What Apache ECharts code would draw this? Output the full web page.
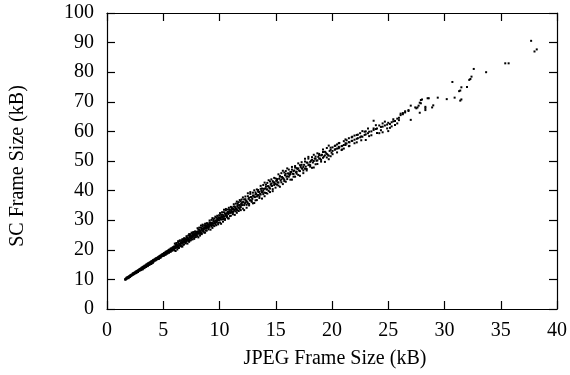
<!DOCTYPE html>
<html>
<head>
<meta charset="utf-8">
<script src="https://cdn.jsdelivr.net/npm/echarts@6/dist/echarts.min.js"></script>
<style>
html,body{margin:0;padding:0;background:#fff;}
#chart{width:570px;height:375px;}
</style>
</head>
<body>
<div id="chart"></div>
<script>
// Axis ticks
const xTicks = [0, 5, 10, 15, 20, 25, 30, 35, 40];
const yTicks = [0, 10, 20, 30, 40, 50, 60, 70, 80, 90, 100];
const xTitle = 'JPEG Frame Size (kB)';
const yTitle = 'SC Frame Size (kB)';

// [JPEG frame size kB, SC frame size kB]
const coreFrames = [
[1.62,10.1],[1.62,9.9],[1.68,10.3],[1.68,10.0],[1.75,10.4],[1.75,10.6],[1.75,10.2],[1.83,10.5],[1.83,10.8],
[1.91,10.9],[1.91,10.6],[1.91,10.4],[1.97,11.1],[1.97,10.8],[2.04,11.0],[2.04,11.3],[2.04,10.8],
[2.11,11.4],[2.11,11.1],[2.17,11.6],[2.17,11.2],[2.17,11.4],[2.26,11.5],[2.26,11.9],
[2.33,11.9],[2.33,11.6],[2.33,12.1],[2.41,12.2],[2.41,11.8],[2.47,12.0],[2.47,12.4],[2.47,12.2],
[2.55,12.6],[2.55,12.1],[2.62,12.4],[2.62,12.8],[2.62,12.2],[2.68,12.9],[2.68,12.5],
[2.76,12.7],[2.76,13.1],[2.76,12.5],[2.84,13.3],[2.84,12.9],[2.91,13.0],[2.91,13.5],[2.91,13.2],
[2.97,13.6],[2.97,13.1],[3.05,13.4],[3.05,13.9],[3.05,13.2],[3.12,14.0],[3.12,13.6],
[3.18,13.7],[3.18,14.2],[3.18,13.4],[3.26,14.4],[3.26,13.9],[3.33,14.1],[3.33,14.6],[3.33,13.8],
[3.41,14.7],[3.41,14.2],[3.48,14.5],[3.48,15.0],[3.48,14.2],[3.55,15.1],[3.55,14.6],
[3.63,14.8],[3.63,15.4],[3.63,14.5],[3.71,15.5],[3.71,14.9],[3.78,15.2],[3.78,15.7],[3.78,14.9],
[3.86,15.9],[3.86,15.3],[3.93,15.5],[3.93,16.1],[3.93,15.2],[4.01,16.2],[4.01,15.7],
[4.08,15.9],[4.08,16.5],[4.08,15.6],[4.15,16.6],[4.15,16.0],[3.95,15.4],[4.23,16.3],[4.23,16.8],
[4.31,17.0],[4.31,16.4],[4.31,16.7],[4.38,16.6],[4.38,17.2],[4.46,17.3],[4.46,16.8],[4.46,17.0],
[4.53,17.5],[4.53,16.9],[4.61,17.2],[4.61,17.7],[4.61,16.9],[4.68,17.9],[4.68,17.3],
[4.76,17.6],[4.76,18.1],[4.76,17.3],[4.84,18.3],[4.84,17.7],[4.91,17.9],[4.91,18.5],[4.91,18.1],
[4.98,18.6],[4.98,18.0],[5.06,18.3],[5.06,18.9],[5.06,18.0],[5.06,18.6],[5.14,19.0],[5.14,18.4],
[5.21,18.7],[5.21,19.3],[5.21,18.3],[5.28,19.4],[5.28,18.7],[5.28,19.0],[5.36,19.0],[5.36,19.6],[5.36,18.7],
[5.44,19.8],[5.44,19.1],[5.51,19.4],[5.51,20.0],[5.51,19.0],[5.51,19.6],[5.58,20.1],[5.58,19.5],
[5.66,19.7],[5.66,20.4],[5.66,19.3],[5.73,20.5],[5.73,19.8],[5.73,20.1],[5.81,20.1],[5.81,20.7],[5.81,19.7],
[5.88,20.9],[5.88,20.2],[5.95,20.4],[5.95,21.1],[5.95,20.0],[5.95,20.7]
];
const centreFrames = [
[6.06,20.9],[6.14,21.3],[6.21,21.0],[6.28,21.6],[6.36,21.4],[6.43,22.0],[6.51,21.8],[6.58,22.4],[6.66,22.2],
[6.73,22.7],[6.81,22.5],[6.88,23.1],[6.96,22.9],[7.04,23.5],[7.11,23.3],[7.19,23.9],[7.26,23.6],[7.34,24.2],
[7.41,24.0],[7.49,24.6],[7.56,24.4],[7.64,25.0],[7.71,24.7],[7.79,25.3],[7.86,25.1],[7.94,25.7],[8.01,25.4],
[8.09,26.1],[8.16,25.8],[8.24,26.5],[8.31,26.2],[8.39,26.8],[8.46,26.5],[8.54,27.2],[8.61,26.9],[8.69,27.6],
[8.76,27.2],[8.84,27.9],[8.91,27.6],[8.99,28.3],[9.07,28.0],[9.16,28.7],[9.25,28.4],[9.33,29.1],[9.42,28.8],
[9.50,29.5],[9.59,29.2],[9.67,29.9],[9.76,29.6],[9.84,30.4],[9.93,30.0],[10.01,30.8],[10.10,30.4],[10.18,31.2],
[10.27,30.9],[10.36,31.7],[10.44,31.3],[10.53,32.1],[10.62,31.7],[10.70,32.5],[10.79,32.1],[10.88,33.0],
[10.96,32.5],[11.05,33.4],[11.14,32.9],[11.23,33.8],[11.32,33.4],[11.41,34.3],[11.50,33.8],[11.58,34.7],
[11.67,34.2],[11.76,35.1],[11.85,34.6],[11.93,35.5],[12.02,35.1],[12.13,36.1],[12.24,35.6],[12.35,36.6],
[12.47,36.1],[12.58,37.2],[12.69,36.7],[12.80,37.8],[12.92,37.2],[13.03,38.3],[13.15,37.8],[13.26,38.9],
[13.38,38.3],[13.49,39.5],[13.61,38.9],[13.72,40.0],[13.84,39.4],[13.95,40.6],
[14.07,40.7],[14.19,40.4],[14.31,41.5],[14.43,41.0],[14.55,42.1],[14.67,41.6],[14.79,42.7],[14.92,42.2],
[15.04,43.3],[15.17,42.8],[15.30,44.0],[15.43,43.4],[15.56,44.6],[15.69,44.0],[15.82,45.2],[15.95,44.7],
[16.09,45.8],[16.23,45.2],[16.37,46.3],[16.51,45.7],[16.65,46.8],[16.79,46.2],[16.93,47.3],[17.07,46.8],
[17.22,48.0],[17.37,47.4],[17.52,48.7],[17.67,48.1],[17.82,49.4],[17.98,48.8],[18.14,50.1],[18.30,49.5],
[18.46,50.8],[18.62,50.1],[18.78,51.4],[18.94,50.8],[19.11,52.1],[19.28,51.5],[19.45,52.8],[19.62,52.1],
[19.79,53.4],[19.96,52.8]
];
const midFrames = [
[6.03,21.1],[6.03,19.8],[6.03,22.1],[6.10,20.6],[6.10,21.7],[6.10,19.6],[6.17,21.7],[6.17,21.0],[6.17,22.3],
[6.25,20.7],[6.25,21.4],[6.25,20.1],[6.32,22.9],[6.32,21.0],[6.32,22.4],[6.39,20.9],[6.39,22.1],[6.39,20.6],
[6.47,22.9],[6.47,21.6],[6.47,23.2],[6.55,21.3],[6.55,22.2],[6.55,21.6],[6.62,23.2],[6.62,21.1],[6.62,22.6],
[6.70,22.4],[6.70,23.6],[6.70,21.1],[6.77,23.3],[6.77,21.7],[6.77,22.8],[6.85,22.5],[6.85,23.9],[6.85,21.8],
[6.92,23.8],[6.92,22.8],[6.92,23.5],[7.00,22.6],[7.00,23.5],[7.00,22.2],[7.07,24.6],[7.07,22.9],[7.07,24.1],
[7.15,22.1],[7.15,24.1],[7.15,23.4],[7.22,24.8],[7.22,23.0],[7.22,23.7],[7.30,22.7],[7.30,25.3],[7.30,23.4],
[7.37,24.9],[7.37,23.2],[7.37,24.5],[7.45,23.2],[7.45,25.3],[7.45,24.0],[7.52,25.8],[7.52,23.7],[7.52,24.6],
[7.60,24.2],[7.60,25.6],[7.60,23.5],[7.67,25.2],[7.67,24.7],[7.67,26.0],[7.75,23.7],[7.75,25.6],[7.75,24.1],
[7.82,25.4],[7.82,24.8],[7.82,26.2],[7.90,24.3],[7.90,26.1],[7.90,25.2],[7.97,26.0],[7.97,24.9],[7.97,25.8],
[8.05,26.1],[8.05,24.6],[8.05,27.3],[8.12,25.4],[8.12,26.8],[8.12,24.2],[8.20,26.8],[8.20,25.9],[8.20,27.5],
[8.27,25.4],[8.27,26.3],[8.27,24.8],[8.35,28.2],[8.35,25.8],[8.35,27.5],[8.42,25.6],[8.42,27.2],[8.42,25.3],
[8.50,28.0],[8.50,26.5],[8.50,28.5],[8.57,26.1],[8.57,27.2],[8.57,26.4],[8.65,28.3],[8.65,25.8],[8.65,27.6],
[8.72,27.3],[8.72,28.8],[8.72,25.8],[8.80,28.3],[8.80,26.5],[8.80,27.8],[8.87,27.3],[8.87,29.0],[8.87,26.5],
[8.95,28.9],[8.95,27.7],[8.95,28.5],[9.03,27.4],[9.03,28.5],[9.03,26.9],[9.12,29.9],[9.12,27.8],[9.12,29.2],
[9.20,26.8],[9.20,29.2],[9.20,28.4],[9.29,30.1],[9.29,27.9],[9.29,28.8],[9.37,27.4],[9.37,30.7],[9.37,28.3],
[9.46,30.2],[9.46,28.2],[9.46,29.7],[9.54,28.0],[9.54,30.6],[9.54,29.0],[9.63,31.2],[9.63,28.7],[9.63,29.8],
[9.71,29.2],[9.71,30.9],[9.71,28.3],[9.80,30.4],[9.80,29.9],[9.80,31.5],[9.88,28.6],[9.88,31.0],[9.88,29.1],
[9.97,30.7],[9.97,30.0],[9.97,31.7],
[10.05,31.0],[10.05,29.2],[10.05,32.4],[10.14,30.2],[10.14,31.8],[10.14,28.8],[10.23,31.9],[10.23,30.9],[10.23,32.7],
[10.31,30.3],[10.31,31.3],[10.31,29.5],[10.40,33.5],[10.40,30.7],[10.40,32.7],[10.49,30.5],[10.49,32.3],[10.49,30.1],
[10.57,33.3],[10.57,31.5],[10.57,33.8],[10.66,31.0],[10.66,32.3],[10.66,31.4],[10.75,33.6],[10.75,30.6],[10.75,32.8],
[10.83,32.4],[10.83,34.2],[10.83,30.6],[10.92,33.6],[10.92,31.4],[10.92,33.0],[11.01,32.5],[11.01,34.5],[11.01,31.5],
[11.10,34.3],[11.10,32.9],[11.10,33.9],[11.19,32.5],[11.19,33.8],[11.19,32.0],[11.27,35.4],[11.27,33.0],[11.27,34.6],
[11.36,31.8],[11.36,34.6],[11.36,33.6],[11.45,35.6],[11.45,33.0],[11.45,34.0],[11.54,32.5],[11.54,36.3],[11.54,33.5],
[11.62,35.7],[11.62,33.3],[11.62,35.1],[11.71,33.1],[11.71,36.1],[11.71,34.3],[11.80,36.8],[11.80,33.8],[11.80,35.1],
[11.89,34.4],[11.89,36.4],[11.89,33.4],[11.97,35.8],[11.97,35.2],[11.97,37.0]
];
const upperFrames = [
[12.08,36.1],[12.08,33.9],[12.08,37.7],[12.19,35.1],[12.19,37.0],[12.19,33.4],[12.30,37.1],[12.30,35.9],[12.30,38.0],
[12.41,35.2],[12.41,36.4],[12.41,34.2],[12.52,39.1],[12.52,35.7],[12.52,38.1],[12.63,35.5],[12.63,37.6],[12.63,35.0],
[12.74,38.9],[12.74,36.7],[12.74,39.5],[12.86,36.2],[12.86,37.7],[12.86,36.6],[12.97,39.3],[12.97,35.7],[12.97,38.3],
[13.09,37.9],[13.09,40.1],[13.09,35.8],[13.20,39.4],[13.20,36.7],[13.20,38.7],[13.32,38.0],[13.32,40.4],[13.32,36.8],
[13.43,40.2],[13.43,38.5],[13.43,39.7],[13.55,38.1],[13.55,39.6],[13.55,37.5],[13.66,41.6],[13.66,38.7],[13.66,40.6],
[13.78,37.3],[13.78,40.7],[13.78,39.5],[13.89,41.9],[13.89,38.8],[13.89,40.0],[14.01,38.1],[14.01,42.7],[14.01,39.3],
[14.13,42.0],[14.13,39.2],[14.13,41.3],[14.25,39.0],[14.25,42.6],[14.25,40.4],[14.37,43.5],[14.37,39.9],[14.37,41.4],
[14.49,40.7],[14.49,43.1],[14.49,39.5],[14.61,42.4],[14.61,41.7],[14.61,43.8],[14.73,39.8],[14.73,43.2],[14.73,40.5],
[14.86,42.8],[14.86,41.9],[14.86,44.3],[14.98,41.0],[14.98,44.1],[14.98,42.4],[15.11,43.9],[15.11,42.0],[15.11,43.5],
[15.24,41.7],[15.24,45.5],[15.24,42.7],[15.37,44.9],[15.37,41.3],[15.37,44.7],[15.50,43.8],[15.50,45.9],[15.50,42.8],
[15.63,44.3],[15.63,42.2],[15.63,46.7],[15.76,43.7],[15.76,46.1],[15.76,43.2],[15.89,45.7],[15.89,43.0],[15.89,46.6],
[16.02,44.8],[16.02,47.5],[16.02,43.9],[16.16,45.7],[16.16,44.7],[16.16,47.1],[16.30,43.7],[16.30,46.3],[16.30,45.6],
[16.44,48.0],[16.44,43.7],[16.44,47.1],[16.58,44.7],[16.58,46.6],[16.58,45.6],[16.72,48.3],[16.72,44.7],[16.72,47.8],
[16.86,46.4],[16.86,47.6],[16.86,45.7],[17.00,47.5],[17.00,45.3],[17.00,49.2],[17.15,46.6],[17.15,48.6],[17.15,45.0],
[17.30,48.7],[17.30,47.5],[17.30,49.6],[17.45,46.8],[17.45,48.0],[17.45,45.9],[17.60,50.8],[17.60,47.4],[17.60,49.8],
[17.75,47.3],[17.75,49.5],[17.75,46.8],[17.90,50.8],[17.90,48.6],[17.90,51.4],[18.06,48.1],[18.06,49.7],[18.06,48.6],
[18.22,51.3],[18.22,47.7],[18.22,50.4],[18.38,50.0],[18.38,52.1],[18.38,47.8],[18.54,51.5],[18.54,48.9],[18.54,50.8],
[18.70,50.2],[18.70,52.6],[18.70,49.0],[18.86,52.4],[18.86,50.8],[18.86,52.0],[19.03,50.4],[19.03,51.9],[19.03,49.8],
[19.20,53.9],[19.20,51.1],[19.20,53.0],[19.37,49.7],[19.37,53.1],[19.37,51.9],[19.54,54.4],[19.54,51.2],[19.54,52.4],
[19.71,50.6],[19.71,55.2],[19.71,51.8],[19.88,54.5],[19.88,51.6],[19.88,53.8]
];
const sparseFrames = [
[20.05,53.4],[20.05,54.6],[20.05,52.3],[20.25,53.8],[20.25,55.1],[20.45,54.2],[20.45,52.9],[20.45,55.6],
[20.65,54.6],[20.65,56.1],[20.85,55.0],[20.85,53.7],[21.05,55.4],[21.05,56.7],[21.05,54.2],
[21.30,55.9],[21.30,57.0],[21.55,56.3],[21.55,55.1],[21.75,56.8],[21.75,58.0],
[22.00,57.2],[22.00,56.0],[22.00,58.6],[22.30,57.7],[22.30,58.9],[22.60,58.3],[22.60,57.0],
[22.90,58.8],[22.90,59.9],[23.20,59.4],[23.20,61.0],[23.50,60.0],[23.50,58.7],[23.90,60.8],[23.90,62.1],
[24.35,61.5],[24.35,60.4],[24.70,62.0],[24.70,63.3],[25.15,62.5],[25.15,61.2],[25.45,63.4],[25.45,64.1],
[25.95,64.6],[25.95,63.8],
[20.3,54.0],[20.3,55.2],[20.6,54.3],[20.6,54.8],[20.6,56.0],[20.9,55.1],[20.9,53.9],
[21.2,55.4],[21.2,57.3],[21.2,56.0],[21.5,56.4],[21.5,57.7],[21.5,55.0],[21.8,56.8],[21.8,58.2],
[22.2,57.5],[22.2,58.8],[22.2,56.3],[22.5,58.0],[22.5,59.4],[22.7,60.1],[22.7,58.2],
[23.0,59.0],[23.0,57.1],[23.0,60.0],[23.3,59.9],[23.3,58.4],[23.7,60.5],[23.7,61.0],[23.7,63.6],
[24.0,61.0],[24.0,59.5],[24.2,59.4],[24.2,62.0],[24.5,61.6],[24.5,62.7],[24.5,59.7],
[24.9,61.0],[24.9,62.3],[25.0,60.1],[25.0,62.9],[25.3,63.1],[25.3,61.7],[25.6,62.2],[25.6,63.5],
[25.8,62.7],[25.8,64.3],[26.1,65.5],[26.1,66.0],[26.3,66.2],[26.3,65.8],[26.5,66.4],[26.5,66.8],
[26.8,67.2],[26.8,66.9],[27.0,68.7],[27.0,63.9],[27.4,68.1],[27.5,67.8],[27.6,68.1],[27.7,68.7],
[27.8,69.7],[27.8,66.3],[27.9,70.6],[27.9,69.5],[28.0,70.8],[28.3,68.3],[28.3,67.8],[28.3,67.2],
[28.5,71.2],[28.6,71.2],[28.9,68.1],[29.0,68.8],[29.4,71.4],[30.2,70.9],[30.7,76.7],[30.9,71.4],
[31.3,73.6],[31.4,70.4],[31.4,73.8],[31.5,74.9],[31.5,70.8],[32.0,75.0],[32.2,77.4],[32.3,77.7],
[32.4,78.5],[32.6,81.1],[33.7,80.0],[35.4,83.0],[35.7,83.0],[38.0,87.0],[38.2,87.7],[37.7,90.6]
];

const allFrames = coreFrames.concat(centreFrames, midFrames, upperFrames, sparseFrames);

const FONT = '"Liberation Serif", "DejaVu Serif", serif';
const chart = echarts.init(document.getElementById('chart'), null, {renderer: 'canvas'});
const step = (a) => a[1] - a[0];
const tickLine = () => ({show: true, inside: true, length: 8, lineStyle: {color: '#000', width: 1.2}});
const axisLine = () => ({show: true, onZero: false, lineStyle: {color: '#000', width: 1.2}});

chart.setOption({
  animation: false,
  backgroundColor: '#fff',
  grid: {left: 107, right: 11, top: 13, bottom: 66, containLabel: false},
  xAxis: [{
    type: 'value', min: xTicks[0], max: xTicks[xTicks.length - 1], interval: step(xTicks),
    position: 'bottom',
    name: xTitle, nameLocation: 'middle', nameGap: 40,
    nameTextStyle: {fontFamily: FONT, fontSize: 20, color: '#000', padding: [0, 0, 0, 6]},
    axisLine: axisLine(), axisTick: tickLine(),
    axisLabel: {fontFamily: FONT, fontSize: 20, color: '#000', margin: 12},
    splitLine: {show: false}
  }, {
    type: 'value', min: xTicks[0], max: xTicks[xTicks.length - 1], interval: step(xTicks),
    position: 'top',
    axisLine: axisLine(), axisTick: tickLine(), axisLabel: {show: false}, splitLine: {show: false}
  }],
  yAxis: [{
    type: 'value', min: yTicks[0], max: yTicks[yTicks.length - 1], interval: step(yTicks),
    position: 'left',
    name: yTitle, nameLocation: 'middle', nameGap: 79, nameRotate: 90,
    nameTextStyle: {fontFamily: FONT, fontSize: 20, color: '#000', padding: [0, 10, 0, 0]},
    axisLine: axisLine(), axisTick: tickLine(),
    axisLabel: {fontFamily: FONT, fontSize: 20, color: '#000', margin: 13},
    splitLine: {show: false}
  }, {
    type: 'value', min: yTicks[0], max: yTicks[yTicks.length - 1], interval: step(yTicks),
    position: 'right',
    axisLine: axisLine(), axisTick: tickLine(), axisLabel: {show: false}, splitLine: {show: false}
  }],
  series: [{
    type: 'scatter',
    xAxisIndex: 0, yAxisIndex: 0,
    data: allFrames,
    symbol: 'rect',
    symbolSize: 2,
    itemStyle: {color: '#000', opacity: 1},
    emphasis: {disabled: true}
  }]
});
</script>
</body>
</html>
